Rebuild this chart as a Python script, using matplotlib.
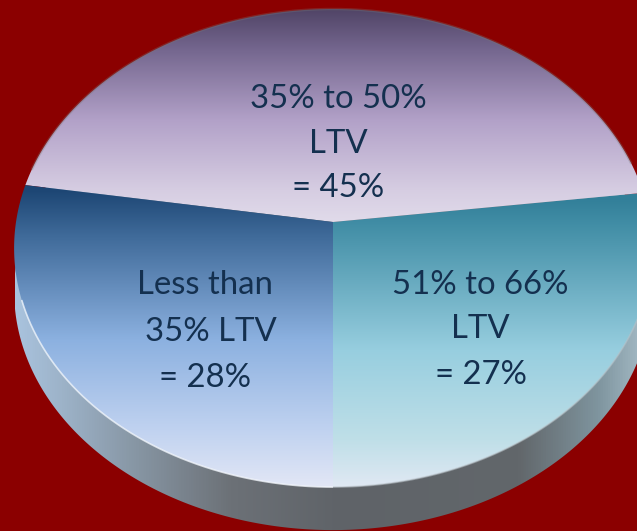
import numpy as np
import matplotlib
matplotlib.use("Agg")
import matplotlib.pyplot as plt
from matplotlib.colors import LinearSegmentedColormap
from matplotlib.patches import Polygon

# data
slice_names = ["51% to 66% LTV", "35% to 50% LTV", "Less than 35% LTV"]
slice_values = [27, 45, 28]
label_lines = [
    ["51% to 66%", "LTV", "= 27%"],
    ["35% to 50%", "LTV", "= 45%"],
    ["Less than", "35% LTV", "= 28%"],
]

W, H = 637, 531
APEX = (333, 222)
BG = "#8b0000"
TXT = "#14304f"
plt.rcParams["font.family"] = ["Lato", "DejaVu Sans"]

fig = plt.figure(figsize=(W / 100, H / 100), dpi=100, facecolor=BG)
ax = fig.add_axes([0, 0, 1, 1])
wedges, _ = ax.pie(slice_values, startangle=-90, counterclock=True)
for w in wedges:
    w.set_visible(False)
ax.set_aspect("auto")
ax.set_xlim(0, W)
ax.set_ylim(H, 0)
ax.axis("off")

A, B, K, WARP = 317, 236.2, 0.109, 0.85


def project(theta_deg, dy=0.0):
    t = np.radians(theta_deg)
    c = np.cos(t)
    t = t + np.radians(WARP * (c * c - c))
    u, v = np.cos(t), np.sin(t)
    w = 1 + K * v
    return APEX[0] + A * u / w, APEX[1] - B * v / w + dy


def gradient(stops, horizontal=False):
    pos, cols = zip(*stops)
    lo, hi = pos[0], pos[-1]
    cmap = LinearSegmentedColormap.from_list("g", [((p - lo) / (hi - lo), c) for p, c in stops])
    g = np.linspace(0, 1, 512)
    arr = g[None, :] if horizontal else g[:, None]
    return cmap(arr), lo, hi


# side wall
th = np.linspace(0, 360, 720)
sx, sy = project(th, dy=43)
side = Polygon(np.c_[sx, sy], closed=True, fc="none", ec="none")
ax.add_patch(side)
img, lo, hi = gradient([(15, "#a9c3de"), (60, "#9db3c9"), (135, "#8796a4"), (230, "#6c7177"),
                        (340, "#5f6368"), (520, "#62676b"), (600, "#7f959f"), (650, "#a9bfca")], True)
im = ax.imshow(img, extent=(lo, hi, H, 0), aspect="auto", zorder=1)
im.set_clip_path(side)

# slice faces
slice_grads = [
    [(170, "#2f7f99"), (200, "#33809a"), (225, "#428ea6"), (350, "#97cedf"), (440, "#bfdfe8"), (490, "#e2e9f4")],
    [(5, "#4d4163"), (50, "#75678f"), (120, "#b2a1c8"), (190, "#d6cde2"), (230, "#e3deec")],
    [(170, "#1d4674"), (190, "#1d4674"), (235, "#3f6a99"), (340, "#8cb1e0"), (430, "#c0d2f0"), (490, "#e4e8f6")],
]
for w, stops in zip(wedges, slice_grads):
    a = np.linspace(w.theta1, w.theta2, 240)
    x, y = project(a)
    poly = Polygon(np.r_[[APEX], np.c_[x, y]], closed=True, fc="none", ec="none")
    ax.add_patch(poly)
    img, lo, hi = gradient(stops)
    im = ax.imshow(img, extent=(0, W, hi, lo), aspect="auto", zorder=2)
    im.set_clip_path(poly)

ax.set_xlim(0, W)
ax.set_ylim(H, 0)

# rim highlights
a = np.linspace(197, 270, 200)
x, y = project(a)
ax.plot(x, y, color="#f4f8fd", lw=1.2, alpha=0.75, zorder=3, solid_capstyle="butt")
a = np.linspace(15, 165, 200)
x, y = project(a)
ax.plot(x, y, color="#777777", lw=1.8, alpha=0.3, zorder=3)
a = np.linspace(270, 350, 200)
x, y = project(a)
ax.plot(x, y, color="#b9c2c8", lw=1.2, alpha=0.55, zorder=3, solid_capstyle="butt")

# labels
centers = [
    [(480, 285), (480, 329), (481, 375)],
    [(338, 99), (338, 144), (338, 188)],
    [(205, 285), (211, 332), (205, 378)],
]
for lines, pos in zip(label_lines, centers):
    for s, (px, py) in zip(lines, pos):
        ax.text(px, py, s, color=TXT, fontsize=23.7, ha="center", va="center", zorder=4)

fig.savefig("out.png", dpi=100, facecolor=BG)
